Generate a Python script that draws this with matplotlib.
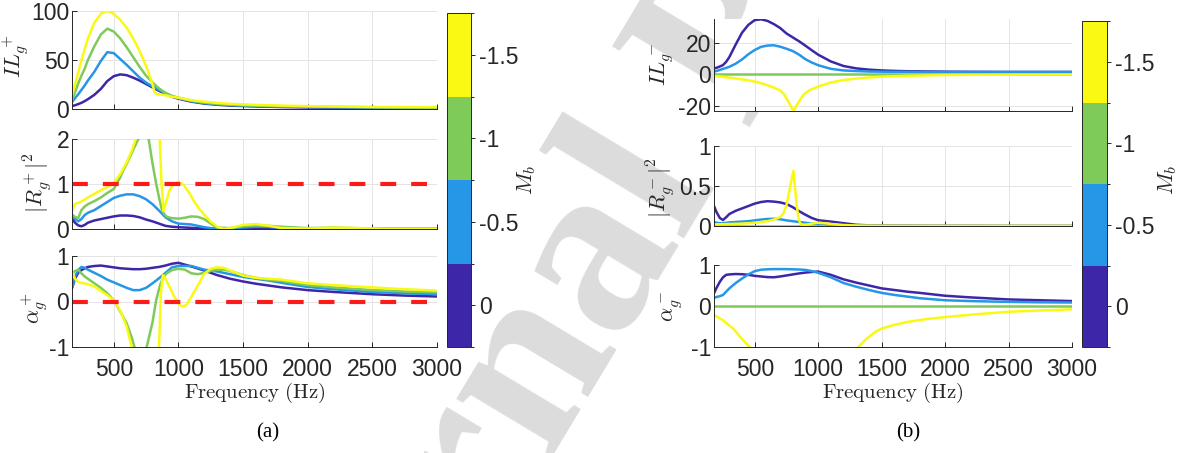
import matplotlib
matplotlib.use("Agg")
import matplotlib.pyplot as plt
from matplotlib.colors import ListedColormap, BoundaryNorm
from matplotlib.cm import ScalarMappable

plt.rcParams["font.family"] = "Liberation Sans"
plt.rcParams["mathtext.fontset"] = "cm"
plt.rcParams["axes.unicode_minus"] = False

W, H = 1181, 453

# Mach numbers of the bias flow and the colour used for each
mach = [0, -0.5, -1, -1.5]
mach_colors = ["#3E26A8", "#2696E6", "#7FCB5A", "#F9F914"]

# ---------- (a) positive direction ----------
freq_a = [177, 200, 225, 250, 275, 300, 350, 400, 450, 500, 550, 600, 650, 700, 750,
          800, 850, 900, 950, 1000, 1100, 1200, 1300, 1400, 1500, 1600, 1700, 1800,
          2000, 2200, 2500, 2750, 3000]

il_pos_m0 = [3, 3.8, 5, 6.3, 8, 10, 14.5, 20.5, 28.5, 33.5, 35.3, 34.5, 32, 29, 25.5,
             22, 18.5, 15.5, 12.5, 10.5, 7.5, 5.5, 4.3, 3.5, 3, 2.6, 2.3, 2, 1.6, 1.3,
             1, 0.8, 0.7]
il_pos_m05 = [7, 11, 15, 19.5, 24, 29, 38, 49, 58, 57, 51, 45, 38.5, 32, 27, 23, 19.5,
              16, 13, 11, 8, 6, 4.8, 4, 3.5, 3.1, 2.8, 2.5, 2.1, 1.8, 1.5, 1.3, 1.1]
il_pos_m1 = [9, 17, 26, 34, 41, 50, 64, 76, 82, 79, 72, 63, 53, 43, 34, 27, 21, 16.5,
             13.5, 11.5, 8.5, 6.5, 5.2, 4.4, 3.8, 3.4, 3.1, 2.8, 2.4, 2.1, 1.8, 1.6, 1.4]
freq_il_pos_m15 = [177, 200, 225, 250, 275, 300, 350, 400, 435, 475, 500, 550, 600,
                   650, 700, 750, 780, 800, 815, 830, 850, 880, 900, 950, 1000, 1100,
                   1200, 1300, 1400, 1500, 1600, 1700, 1800, 2000, 2200, 2500, 2750, 3000]
il_pos_m15 = [14, 25, 37, 50, 61, 72, 88, 97, 100, 99, 97, 91, 83, 72, 59, 44, 33, 25,
              17, 15.5, 15, 14.5, 14, 12.5, 11.5, 9, 7.5, 6.2, 5.3, 4.7, 4.2, 3.8, 3.4,
              2.9, 2.5, 2.1, 1.9, 1.8]

r_pos_m0 = [0.24, 0.14, 0.08, 0.06, 0.09, 0.14, 0.19, 0.22, 0.25, 0.28, 0.30, 0.30,
            0.29, 0.26, 0.21, 0.17, 0.12, 0.07, 0.05, 0.04, 0.025, 0.01, 0.003, 0.002,
            0.005, 0.01, 0.01, 0.008, 0.003, 0.005, 0.003, 0.002, 0.002]
r_pos_m05 = [0.30, 0.22, 0.17, 0.22, 0.31, 0.36, 0.42, 0.51, 0.60, 0.69, 0.74, 0.77,
             0.77, 0.73, 0.66, 0.55, 0.41, 0.26, 0.17, 0.12, 0.10, 0.04, 0.0, 0.01,
             0.035, 0.05, 0.045, 0.03, 0.01, 0.015, 0.005, 0.003, 0.003]
freq_r_pos_m1 = [177, 200, 225, 250, 275, 300, 350, 400, 450, 500, 550, 575, 600, 650,
                 690, 740, 770, 800, 825, 850, 870, 890, 910, 950, 1000, 1050, 1100,
                 1150, 1200, 1250, 1300, 1400, 1500, 1600, 1700, 1800, 2000, 2200, 2500,
                 2750, 3000]
r_pos_m1 = [0.32, 0.27, 0.24, 0.42, 0.50, 0.55, 0.62, 0.70, 0.80, 0.89, 1.15, 1.31,
            1.45, 1.76, 2.0, 2.15, 2.0, 1.45, 1.05, 0.7, 0.45, 0.33, 0.27, 0.24, 0.23,
            0.25, 0.28, 0.27, 0.22, 0.12, 0.03, 0.02, 0.06, 0.08, 0.07, 0.05, 0.02,
            0.03, 0.01, 0.005, 0.005]
freq_r_pos_m15 = [177, 200, 225, 250, 300, 350, 400, 450, 500, 550, 600, 640, 670, 700,
                  750, 800, 840, 855, 870, 885, 900, 930, 960, 1000, 1040, 1080, 1120,
                  1160, 1200, 1250, 1300, 1350, 1400, 1500, 1600, 1700, 1800, 2000,
                  2200, 2400, 2600, 3000]
r_pos_m15 = [0.39, 0.56, 0.58, 0.61, 0.70, 0.78, 0.86, 0.93, 1.02, 1.22, 1.48, 1.75,
             2.0, 2.3, 2.9, 3.5, 3.0, 2.0, 1.0, 0.40, 0.55, 0.85, 1.0, 1.05, 0.98, 0.82,
             0.62, 0.45, 0.32, 0.16, 0.05, 0.0, 0.02, 0.09, 0.11, 0.07, 0.02, 0.01,
             0.03, 0.02, 0.005, 0.005]

alpha_pos_m0 = [0.29, 0.50, 0.63, 0.69, 0.73, 0.76, 0.78, 0.79, 0.77, 0.75, 0.73, 0.72,
                0.71, 0.71, 0.72, 0.74, 0.76, 0.79, 0.83, 0.85, 0.77, 0.68, 0.58, 0.50,
                0.44, 0.39, 0.35, 0.31, 0.25, 0.21, 0.16, 0.13, 0.11]
alpha_pos_m05 = [0.29, 0.55, 0.69, 0.76, 0.74, 0.70, 0.63, 0.56, 0.48, 0.42, 0.36, 0.30,
                 0.25, 0.25, 0.30, 0.40, 0.51, 0.63, 0.75, 0.78, 0.78, 0.70, 0.66, 0.60,
                 0.54, 0.50, 0.46, 0.41, 0.32, 0.27, 0.21, 0.18, 0.16]
freq_alpha_pos_m1 = [177, 200, 225, 250, 275, 300, 350, 400, 450, 500, 550, 600, 640,
                     660, 700, 740, 765, 800, 828, 860, 880, 900, 950, 1000, 1050, 1100,
                     1150, 1200, 1250, 1300, 1350, 1400, 1500, 1600, 1700, 1800, 2000,
                     2200, 2500, 2750, 3000]
alpha_pos_m1 = [0.61, 0.67, 0.70, 0.62, 0.55, 0.50, 0.40, 0.30, 0.18, 0.03, -0.22,
                -0.48, -0.80, -1.0, -1.3, -1.15, -0.88, -0.45, 0.03, 0.38, 0.51, 0.60,
                0.69, 0.72, 0.70, 0.62, 0.60, 0.63, 0.67, 0.70, 0.70, 0.67, 0.58, 0.52,
                0.48, 0.45, 0.36, 0.31, 0.25, 0.22, 0.20]
freq_alpha_pos_m15 = [177, 200, 225, 250, 300, 350, 400, 450, 500, 550, 600, 630, 650,
                      700, 750, 800, 840, 850, 865, 880, 900, 930, 960, 1000, 1030,
                      1060, 1100, 1150, 1200, 1250, 1300, 1350, 1400, 1500, 1600, 1700,
                      1800, 2000, 2200, 2500, 2750, 3000]
alpha_pos_m15 = [0.65, 0.50, 0.43, 0.41, 0.38, 0.33, 0.23, 0.14, 0.03, -0.20, -0.55,
                 -0.90, -1.1, -1.8, -2.6, -3.2, -3.0, -1.0, 0.2, 0.58, 0.50, 0.33, 0.15,
                 -0.05, -0.11, -0.08, 0.10, 0.35, 0.61, 0.72, 0.75, 0.74, 0.68, 0.57,
                 0.52, 0.50, 0.48, 0.40, 0.36, 0.31, 0.27, 0.24]

# ---------- (b) negative direction ----------
freq_b = [179, 200, 225, 250, 275, 300, 350, 400, 450, 500, 550, 600, 650, 700, 750,
          800, 850, 900, 950, 1000, 1100, 1200, 1300, 1400, 1500, 1600, 1700, 1800,
          2000, 2200, 2500, 2750, 3000]
zeros_b = [0.0] * len(freq_b)

il_neg_m0 = [3.8, 4.2, 5, 5.9, 8, 11, 19, 26.5, 31.5, 34.5, 35, 34, 32, 29.5, 26, 23.5,
             21, 18.2, 15.3, 12.5, 8.2, 5.3, 3.8, 3, 2.5, 2.2, 2, 1.9, 1.7, 1.6, 1.5,
             1.5, 1.5]
il_neg_m05 = [1.7, 2.2, 2.8, 3.5, 4.1, 4.8, 6.8, 9.5, 12.8, 15.5, 17.5, 18.3, 18.5,
              17.6, 16.3, 14.8, 12.5, 9.6, 7.5, 5.8, 3.5, 2.5, 2.1, 1.8, 1.7, 1.6, 1.6,
              1.5, 1.5, 1.5, 1.5, 1.5, 1.5]
freq_il_neg_m15 = [179, 250, 300, 350, 400, 450, 500, 550, 600, 650, 700, 730, 764,
                   780, 795, 808, 820, 840, 856, 890, 935, 1000, 1100, 1200, 1300, 1400,
                   1500, 1700, 2000, 2500, 3000]
il_neg_m15 = [-1, -1.6, -2.1, -2.6, -3.2, -3.8, -4.6, -5.6, -6.9, -8.4, -10.2, -12.5,
              -17.3, -19.5, -22, -23.2, -21, -18.5, -16.2, -12.5, -9.9, -7.8, -5.2,
              -3.6, -2.7, -2.0, -1.5, -0.9, -0.4, -0.2, -0.1]

r_neg_m0 = [0.25, 0.17, 0.10, 0.075, 0.11, 0.15, 0.19, 0.22, 0.25, 0.28, 0.30, 0.31,
            0.305, 0.295, 0.275, 0.235, 0.185, 0.14, 0.10, 0.072, 0.055, 0.035, 0.015,
            0.008, 0.005, 0.004, 0.004, 0.003, 0.002, 0.002, 0.001, 0.001, 0.001]
r_neg_m05 = [0.05, 0.04, 0.035, 0.035, 0.04, 0.045, 0.05, 0.055, 0.06, 0.07, 0.08,
             0.088, 0.09, 0.085, 0.07, 0.06, 0.05, 0.04, 0.03, 0.025, 0.015, 0.01,
             0.005, 0.003, 0.002, 0.001, 0.001, 0.0, 0.0, 0.0, 0.0, 0.0, 0.0]
freq_r_neg_m15 = [179, 300, 400, 500, 600, 650, 700, 727, 750, 774, 790, 805, 815, 832,
                  845, 858, 880, 920, 990, 1050, 1100, 1200, 1300, 1500, 2000, 3000]
r_neg_m15 = [0.02, 0.025, 0.03, 0.04, 0.06, 0.08, 0.11, 0.16, 0.26, 0.45, 0.58, 0.69,
             0.52, 0.24, 0.10, 0.03, 0.015, 0.02, 0.04, 0.035, 0.025, 0.012, 0.006,
             0.003, 0.002, 0.002]

alpha_neg_m0 = [0.31, 0.45, 0.59, 0.70, 0.76, 0.77, 0.78, 0.775, 0.76, 0.735, 0.72,
                0.705, 0.70, 0.72, 0.745, 0.77, 0.795, 0.815, 0.83, 0.84, 0.76, 0.65,
                0.57, 0.50, 0.43, 0.39, 0.35, 0.32, 0.25, 0.21, 0.16, 0.14, 0.12]
alpha_neg_m05 = [0.20, 0.22, 0.24, 0.27, 0.35, 0.43, 0.56, 0.67, 0.77, 0.85, 0.885,
                 0.895, 0.90, 0.90, 0.90, 0.895, 0.89, 0.88, 0.85, 0.81, 0.70, 0.56,
                 0.47, 0.39, 0.32, 0.27, 0.23, 0.19, 0.14, 0.12, 0.10, 0.09, 0.085]
freq_alpha_neg_m15 = [179, 250, 330, 410, 460, 500, 600, 700, 800, 900, 1000, 1100,
                      1200, 1280, 1316, 1380, 1450, 1500, 1600, 1700, 1850, 2000, 2250,
                      2500, 2750, 3000]
alpha_neg_m15 = [-0.22, -0.35, -0.55, -0.84, -1.0, -1.3, -2.5, -5, -12, -6, -3.5, -2.2,
                 -1.5, -1.15, -1.0, -0.80, -0.63, -0.55, -0.46, -0.39, -0.32, -0.27,
                 -0.2, -0.14, -0.11, -0.08]

tick_freq = [500, 1000, 1500, 2000, 2500, 3000]

fig = plt.figure(figsize=(W / 100, H / 100), dpi=100)


def px_axes(x0, y0, x1, y1):
    return fig.add_axes([x0 / W, 1 - y1 / H, (x1 - x0) / W, (y1 - y0) / H])


def fig_text(x, y, s, **kw):
    fig.text(x / W, 1 - y / H, s, **kw)


def style(ax, xlim, ylim, yticks, ylabels, bottom):
    ax.set_xlim(*xlim)
    ax.set_ylim(*ylim)
    ax.set_xticks(tick_freq)
    ax.set_yticks(yticks)
    ax.set_yticklabels(ylabels)
    if not bottom:
        ax.set_xticklabels([])
    ax.grid(True, color="#E4E4E4", lw=0.7)
    ax.set_axisbelow(True)
    for s in ["top", "right"]:
        ax.spines[s].set_visible(False)
    for s in ["left", "bottom"]:
        ax.spines[s].set_color("#262626")
        ax.spines[s].set_linewidth(0.7)
    ax.tick_params(direction="in", length=3.5, width=0.7, color="#262626",
                   labelcolor="#262626", labelsize=16.5)
    ax.tick_params(axis="y", pad=2)
    ax.tick_params(axis="x", pad=8)


def draw(ax, series):
    for (f, v), c in zip(series, mach_colors):
        ax.plot(f, v, color=c, lw=1.8, solid_capstyle="butt")


def red_ref(ax, y, xlim):
    ax.plot(list(xlim), [y, y], color="#FF1A1A", lw=3, dashes=(3.8, 3.6))


xlim_a = (177, 3000)
xlim_b = (179, 3000)

# panel (a)
ax = px_axes(72, 11, 437, 109)
draw(ax, [(freq_a, il_pos_m0), (freq_a, il_pos_m05), (freq_a, il_pos_m1),
          (freq_il_pos_m15, il_pos_m15)])
style(ax, xlim_a, (0, 100), [0, 50, 100], ["0", "50", "100"], False)

ax = px_axes(72, 139, 437, 229)
draw(ax, [(freq_a, r_pos_m0), (freq_a, r_pos_m05), (freq_r_pos_m1, r_pos_m1),
          (freq_r_pos_m15, r_pos_m15)])
red_ref(ax, 1, xlim_a)
style(ax, xlim_a, (0, 2), [0, 1, 2], ["0", "1", "2"], False)

ax = px_axes(72, 256, 437, 347)
draw(ax, [(freq_a, alpha_pos_m0), (freq_a, alpha_pos_m05),
          (freq_alpha_pos_m1, alpha_pos_m1), (freq_alpha_pos_m15, alpha_pos_m15)])
red_ref(ax, 0, xlim_a)
style(ax, xlim_a, (-1, 1), [-1, 0, 1], ["-1", "0", "1"], True)

# panel (b)
ax = px_axes(714, 19, 1072, 111)
draw(ax, [(freq_b, il_neg_m0), (freq_b, il_neg_m05), (freq_b, zeros_b),
          (freq_il_neg_m15, il_neg_m15)])
style(ax, xlim_b, (-23.3, 35.2), [-20, 0, 20], ["-20", "0", "20"], False)

ax = px_axes(714, 146, 1072, 226)
draw(ax, [(freq_b, r_neg_m0), (freq_b, r_neg_m05), (freq_b, zeros_b),
          (freq_r_neg_m15, r_neg_m15)])
style(ax, xlim_b, (0, 1), [0, 0.5, 1], ["0", "0.5", "1"], False)

ax = px_axes(714, 265, 1072, 347)
draw(ax, [(freq_b, alpha_neg_m0), (freq_b, alpha_neg_m05), (freq_b, zeros_b),
          (freq_alpha_neg_m15, alpha_neg_m15)])
style(ax, xlim_b, (-1, 1), [-1, 0, 1], ["-1", "0", "1"], True)

# discrete colour bars for the Mach number
order = sorted(range(len(mach)), key=lambda i: mach[i])
cmap = ListedColormap([mach_colors[i] for i in order])
bounds = [-1.75, -1.25, -0.75, -0.25, 0.25]
norm = BoundaryNorm(bounds, cmap.N)
for x0, y0, x1, lx in [(447, 13, 471, 527), (1082, 21, 1107, 1168)]:
    cax = px_axes(x0, y0, x1, 347)
    cb = fig.colorbar(ScalarMappable(norm=norm, cmap=cmap), cax=cax,
                      ticks=[-1.5, -1, -0.5, 0])
    cax.invert_yaxis()
    cb.ax.set_yticklabels(["-1.5", "-1", "-0.5", "0"])
    cb.ax.tick_params(direction="out", length=3, width=0.7, color="#262626",
                      labelcolor="#262626", labelsize=16.5, pad=3)
    cb.outline.set_edgecolor("#262626")
    cb.outline.set_linewidth(0.7)
    fig_text(lx, 180, r"$M_b$", rotation=90, fontsize=16, ha="center", va="center",
             color="#262626")

# axis labels
label_kw = dict(rotation=90, fontsize=16, ha="center", va="center", color="#262626")
fig_text(16, 56, r"$IL_g^+$", **label_kw)
fig_text(38, 183, r"$|R_g^+|^2$", **label_kw)
fig_text(35, 308, r"$\alpha_g^+$", **label_kw)
fig_text(662, 65, r"$IL_g^-$", **label_kw)
fig_text(661, 188, r"$|R_g^-|^2$", **label_kw)
fig_text(672, 306, r"$\alpha_g^-$", **label_kw)

fig_text(254.5, 393, r"$\mathrm{Frequency\ (Hz)}$", fontsize=15, ha="center",
         va="center", color="#262626")
fig_text(893, 393, r"$\mathrm{Frequency\ (Hz)}$", fontsize=15, ha="center",
         va="center", color="#262626")
fig_text(268, 433, "(a)", fontsize=15, family="Liberation Serif", ha="center",
         va="center")
fig_text(908, 433, "(b)", fontsize=15, family="Liberation Serif", ha="center",
         va="center")

# pre-proof watermark behind the axes
fig.text(782 / W, 1 - 75 / H, "Journal Pre-proof", rotation=59, rotation_mode="anchor",
         ha="center", va="baseline", fontsize=175, fontweight="bold",
         family="Liberation Serif", color="#DCDCDC", zorder=-10)

fig.savefig("out.png", dpi=100)
